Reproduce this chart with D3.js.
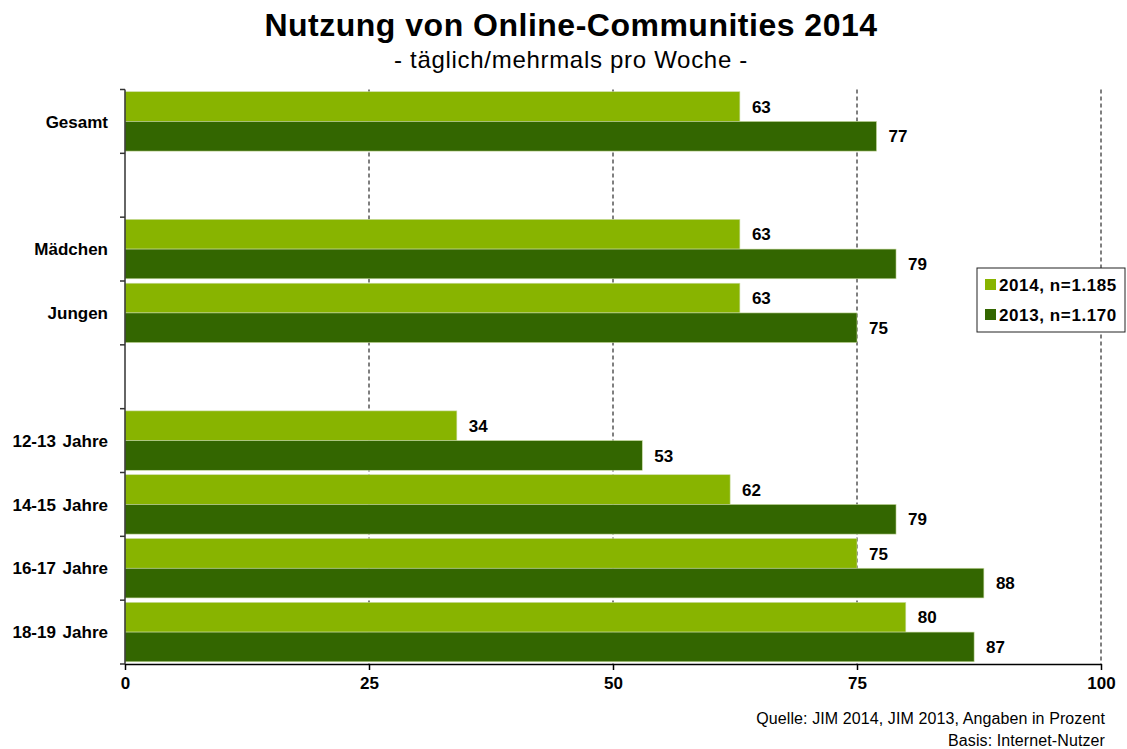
<!DOCTYPE html>
<html><head><meta charset="utf-8">
<script src="https://cdn.jsdelivr.net/npm/d3@7"></script>
<style>body{margin:0;background:#fff;} svg{display:block;font-family:"Liberation Sans",Arial,sans-serif;}</style>
</head><body>
<svg id="c" width="1127" height="749"></svg>
<script>
const categories = ["Gesamt", "", "Mädchen", "Jungen", "", "12-13 Jahre", "14-15 Jahre", "16-17 Jahre", "18-19 Jahre"];
const values2014 = [63, null, 63, 63, null, 34, 62, 75, 80];
const values2013 = [77, null, 79, 75, null, 53, 79, 88, 87];
const seriesNames = ["2014, n=1.185", "2013, n=1.170"];
const xTicks = [0, 25, 50, 75, 100];
const title = "Nutzung von Online-Communities 2014";
const subtitle = "- täglich/mehrmals pro Woche -";
const source1 = "Quelle: JIM 2014, JIM 2013, Angaben in Prozent";
const source2 = "Basis: Internet-Nutzer";

const colors = ["#88b400", "#336600"];
const svg = d3.select("#c");
const m = {l:125, r:1101, t:89.5, b:664};

const x = d3.scaleLinear().domain([0,100]).range([m.l, m.r]);
const idx = categories.map((d,i)=>i);
const y = d3.scaleBand().domain(idx).range([m.t, m.b]).paddingInner(0).paddingOuter(0);
const ySub = d3.scaleBand().domain([0,1]).range([0, y.bandwidth()]).paddingOuter(0.075).paddingInner(0);

// title
svg.append("text").attr("x",571).attr("y",36).attr("text-anchor","middle")
  .attr("font-size",32).attr("font-weight","bold").attr("letter-spacing","0.5").text(title);
svg.append("text").attr("x",571).attr("y",68).attr("text-anchor","middle")
  .attr("font-size",24).attr("letter-spacing","0.7").text(subtitle);

// grid
const g = svg.append("g");
g.selectAll("line.grid").data(xTicks.filter(d=>d>0)).join("line")
  .attr("x1",d=>x(d)).attr("x2",d=>x(d)).attr("y1",m.t).attr("y2",m.b)
  .attr("stroke","#000").attr("stroke-width",1).attr("stroke-dasharray","4,3");

// bars
const series = [values2014, values2013];
series.forEach((vals, s) => {
  const data = vals.map((v,i)=>({v,i})).filter(d=>d.v!=null);
  g.selectAll("rect.s"+s).data(data).join("rect")
    .attr("x", x(0)).attr("y", d=>y(d.i)+ySub(s))
    .attr("width", d=>x(d.v)-x(0)).attr("height", ySub.bandwidth())
    .attr("fill", colors[s]).attr("stroke","#c9dba0").attr("stroke-width",0.6);
  g.selectAll("text.s"+s).data(data).join("text")
    .attr("x", d=>x(d.v)+12).attr("y", d=>y(d.i)+ySub(s)+ySub.bandwidth()/2)
    .attr("dy","0.36em").attr("font-size",17).attr("font-weight","bold").text(d=>d.v);
});

// y axis
const yAxis = svg.append("g");
yAxis.append("line").attr("x1",m.l).attr("x2",m.l).attr("y1",m.t).attr("y2",m.b).attr("stroke","#333").attr("stroke-width",1.5);
const bounds = idx.map(i=>y(i)).concat([m.b]);
yAxis.selectAll("line.t").data(bounds).join("line")
  .attr("x1",m.l-5).attr("x2",m.l).attr("y1",d=>d).attr("y2",d=>d).attr("stroke","#333").attr("stroke-width",1.5);
yAxis.selectAll("text").data(idx.filter(i=>categories[i])).join("text")
  .attr("x",108).attr("y",i=>y(i)+y.bandwidth()/2).attr("dy","0.36em").attr("text-anchor","end")
  .attr("font-size",17).attr("font-weight","bold").attr("word-spacing","2").text(i=>categories[i]);

// x axis
const xAxis = svg.append("g").attr("transform",`translate(0,${m.b})`)
  .call(d3.axisBottom(x).tickValues(xTicks).tickSize(6).tickSizeOuter(0).tickPadding(7));
xAxis.select(".domain").attr("stroke","#000").attr("stroke-width",1.5);
xAxis.selectAll(".tick line").attr("stroke","#000").attr("stroke-width",1.5);
xAxis.selectAll(".tick text").attr("font-size",17).attr("font-weight","bold")
  .attr("font-family","Liberation Sans, Arial, sans-serif").attr("fill","#000");

// legend
const lg = svg.append("g").attr("transform","translate(977,268)");
lg.append("rect").attr("width",148).attr("height",64).attr("fill","#fff").attr("stroke","#222").attr("stroke-width",1);
seriesNames.forEach((n,s)=>{
  lg.append("rect").attr("x",8).attr("y",11+s*30).attr("width",11).attr("height",11).attr("fill",colors[s]);
  lg.append("text").attr("x",22).attr("y",17+s*30).attr("dy","0.36em").attr("font-size",17).attr("font-weight","bold").attr("letter-spacing","0.6").text(n);
});

// source
svg.append("text").attr("x",1105).attr("y",724).attr("text-anchor","end").attr("font-size",16).attr("letter-spacing","0.1").text(source1);
svg.append("text").attr("x",1105).attr("y",746).attr("text-anchor","end").attr("font-size",16).attr("letter-spacing","0.1").text(source2);
</script>
</body></html>
